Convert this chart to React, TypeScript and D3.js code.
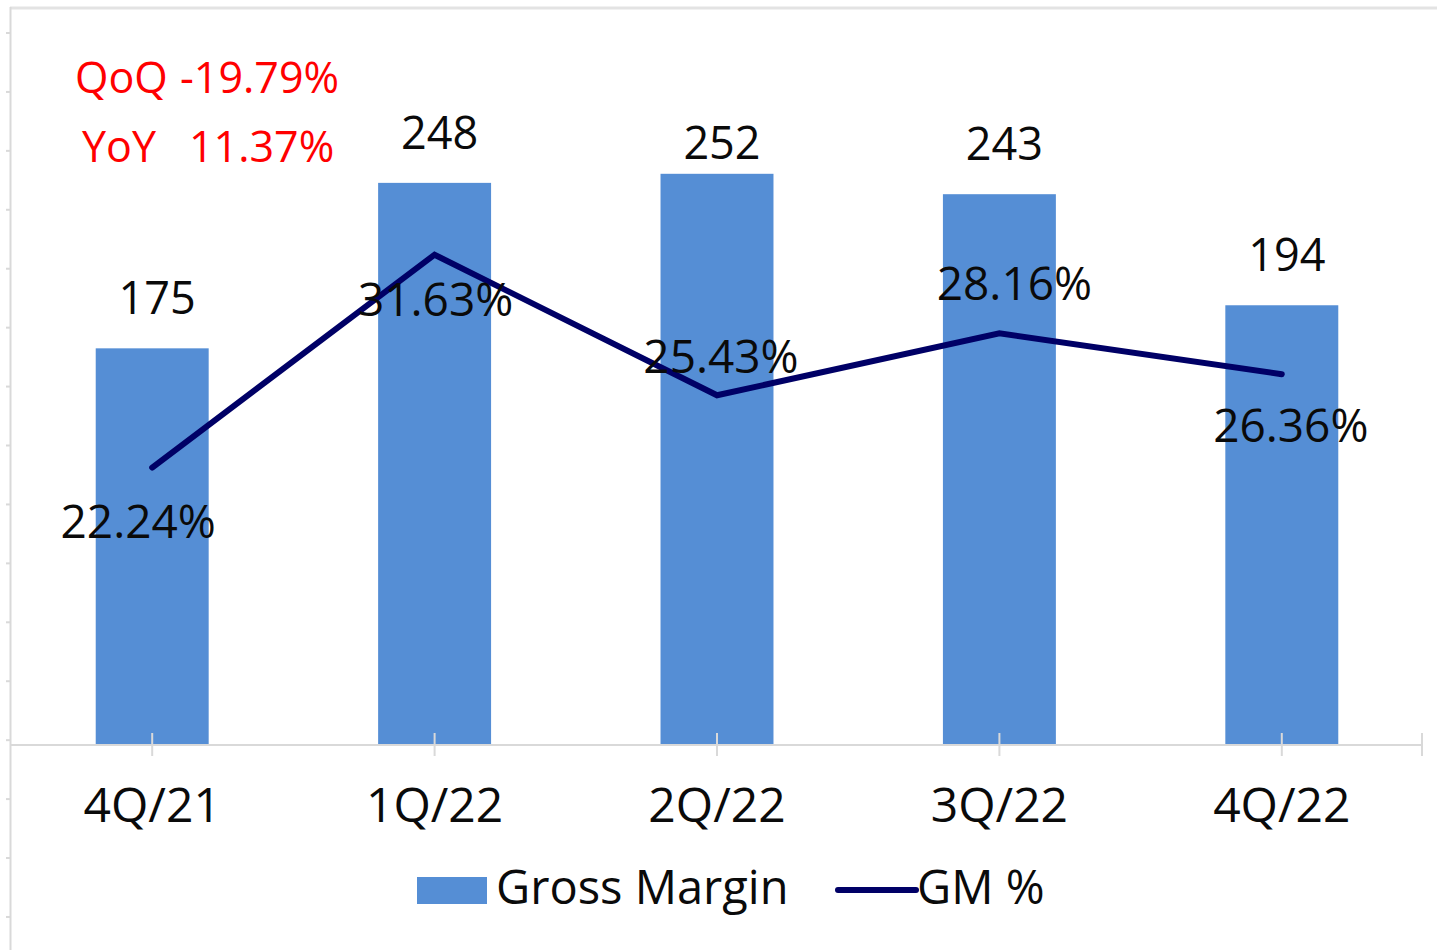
import React from "react";
import * as d3 from "d3";

const categories = ["4Q/21", "1Q/22", "2Q/22", "3Q/22", "4Q/22"];
const grossMargin = [175, 248, 252, 243, 194];
const gmPercent = [22.24, 31.63, 25.43, 28.16, 26.36];
const leftDomain = [0, 300];
const rightDomain = [10, 40];
const legendLabels = ["Gross Margin", "GM %"];
const noteLines = [
  ["QoQ", "-19.79%"],
  ["YoY", "11.37%"],
];

// label placement tweaks (annotation layout)
const barLabelShift = [0, 0, 19, 0, 0];
const gmLabelDx = [-14, 1, 4, 15, 9];
const gmLabelDy = [70, 61, -22, -33, 68];

const W = 1437;
const H = 950;
const FONT = "'Open Sans', 'Noto Sans', sans-serif";

export default function App() {
  const plotTop = 65;
  const plotBottom = 745;
  const x = d3
    .scaleBand<string>()
    .domain(categories)
    .range([11, 1423])
    .paddingInner(0.6)
    .paddingOuter(0.3);
  const y = d3.scaleLinear().domain(leftDomain).range([plotBottom, plotTop]);
  const y2 = d3.scaleLinear().domain(rightDomain).range([plotBottom, plotTop]);
  const cx = (c: string) => (x(c) as number) + x.bandwidth() / 2;

  const line = d3
    .line<number>()
    .x((_, i) => cx(categories[i]))
    .y((d) => y2(d));

  const frameTicks = d3.range(16).map((k) => 33 + k * 58.93);
  const grid = "#d9d9d9";
  const barColor = "#558ed5";
  const lineColor = "#000066";
  const textColor = "#0a0a0a";

  return (
    <svg
      width={W}
      height={H}
      style={{ position: "absolute", left: 0, top: 0, background: "#fff" }}
      fontFamily={FONT}
    >
      <rect x={0} y={0} width={W} height={H} fill="#fff" />
      {/* frame */}
      <line x1={10} x2={W} y1={8} y2={8} stroke="#e3e3e3" strokeWidth={3} />
      <line x1={10.5} x2={10.5} y1={7} y2={H} stroke={grid} strokeWidth={2} />
      {frameTicks.map((t, i) => (
        <line key={i} x1={6} x2={10} y1={t} y2={t} stroke={grid} strokeWidth={2} />
      ))}

      {/* bars */}
      {grossMargin.map((v, i) => (
        <rect
          key={i}
          x={x(categories[i])}
          y={y(v)}
          width={x.bandwidth()}
          height={y(0) - y(v)}
          fill={barColor}
        />
      ))}

      {/* x axis */}
      <line x1={10} x2={1422} y1={plotBottom} y2={plotBottom} stroke={grid} strokeWidth={2} />
      {categories.map((c, i) => (
        <line key={i} x1={cx(c)} x2={cx(c)} y1={733} y2={756} stroke={grid} strokeWidth={2} />
      ))}
      <line x1={1422} x2={1422} y1={733} y2={756} stroke={grid} strokeWidth={2} />
      {categories.map((c, i) => (
        <text key={i} x={cx(c)} y={822} textAnchor="middle" fontSize={48} fill={textColor}>
          {c}
        </text>
      ))}

      {/* bar labels */}
      {grossMargin.map((v, i) => (
        <text
          key={i}
          x={cx(categories[i]) + 5}
          y={y(v) - 34 + barLabelShift[i]}
          textAnchor="middle"
          fontSize={45}
          fill={textColor}
        >
          {v}
        </text>
      ))}

      {/* line */}
      <path
        d={line(gmPercent) as string}
        fill="none"
        stroke={lineColor}
        strokeWidth={6}
        strokeLinecap="round"
        strokeLinejoin="miter"
      />
      {gmPercent.map((v, i) => (
        <text
          key={i}
          x={cx(categories[i]) + gmLabelDx[i]}
          y={y2(v) + gmLabelDy[i]}
          textAnchor="middle"
          fontSize={46}
          fill={textColor}
        >
          {v.toFixed(2) + "%"}
        </text>
      ))}

      {/* notes */}
      <text x={75} y={93} fontSize={43} fill="#ff0000">
        {noteLines[0][0]}
      </text>
      <text x={180} y={93} fontSize={43} fill="#ff0000">
        {noteLines[0][1]}
      </text>
      <text x={82} y={162} fontSize={43} fill="#ff0000">
        {noteLines[1][0]}
      </text>
      <text x={189} y={162} fontSize={43} fill="#ff0000">
        {noteLines[1][1]}
      </text>

      {/* legend */}
      <rect x={417} y={877} width={70} height={27} fill={barColor} />
      <text x={496} y={904} fontSize={47} fill={textColor}>
        {legendLabels[0]}
      </text>
      <line x1={838} x2={916} y1={890} y2={890} stroke={lineColor} strokeWidth={6} strokeLinecap="round" />
      <text x={917} y={904} fontSize={47} fill={textColor}>
        {legendLabels[1]}
      </text>
    </svg>
  );
}
